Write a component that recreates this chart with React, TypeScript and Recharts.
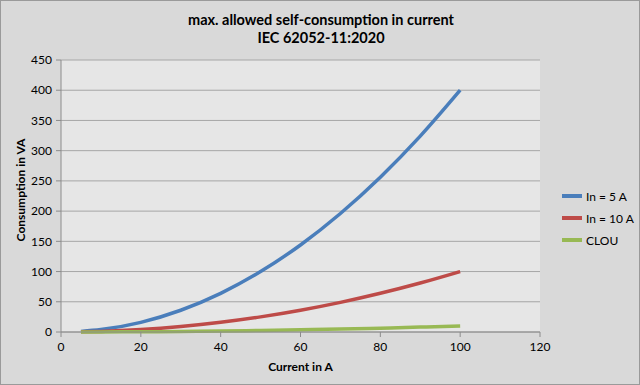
import React from "react";
import { LineChart, Line, XAxis, YAxis, CartesianGrid } from "recharts";

const currents = [5, 10, 20, 30, 40, 50, 60, 70, 80, 90, 100];
const in5A = [1, 4, 16, 36, 64, 100, 144, 196, 256, 324, 400];
const in10A = [0.25, 1, 4, 9, 16, 25, 36, 49, 64, 81, 100];
const clou = [0.03, 0.1, 0.4, 0.9, 1.6, 2.5, 3.6, 4.9, 6.4, 8.1, 10];
const xTicks = [0, 20, 40, 60, 80, 100, 120];
const yTicks = [0, 50, 100, 150, 200, 250, 300, 350, 400, 450];
const seriesNames = ["In = 5 A", "In = 10 A", "CLOU"];
const seriesColors = ["#4a7ebb", "#be4b48", "#98b954"];
const titleLines = ["max. allowed self-consumption in current", "IEC 62052-11:2020"];

const data = currents.map((c, i) => ({ x: c, a: in5A[i], b: in10A[i], c: clou[i] }));

const FONT = "Lato, 'Open Sans', sans-serif";

export default function App() {
  return (
    <div
      style={{
        position: "absolute",
        left: 0,
        top: 0,
        width: 640,
        height: 385,
        background: "#d9d9d9",
        border: "1px solid #9a9a9a",
        boxSizing: "border-box",
        fontFamily: FONT,
      }}
    >
      <div
        style={{
          position: "absolute",
          left: 0,
          top: 10,
          width: 640,
          textAlign: "center",
          fontWeight: "bold",
          fontSize: 14.5,
          lineHeight: "18px",
          color: "#000",
        }}
      >
        {titleLines.map((t) => (
          <div key={t}>{t}</div>
        ))}
      </div>
      <div style={{ position: "absolute", left: -1, top: -1 }}>
        <LineChart
          width={640}
          height={385}
          data={data}
          margin={{ top: 60, right: 100, bottom: 0, left: 0 }}
        >
          <CartesianGrid
            vertical={false}
            stroke="#a6a6a6"
            fill="#e6e6e6"
            fillOpacity={1}
          />
          <XAxis
            dataKey="x"
            type="number"
            domain={[0, 120]}
            ticks={xTicks}
            height={53}
            stroke="#8c8c8c"
            tickSize={5}
            tickMargin={5}
            tick={{ fill: "#000", fontSize: 12, fontFamily: FONT }}
            label={{
              value: "Current in A",
              position: "insideBottom",
              offset: 14,
              fill: "#000",
              fontSize: 12,
              fontWeight: "bold",
              fontFamily: FONT,
            }}
          />
          <YAxis
            type="number"
            domain={[0, 450]}
            ticks={yTicks}
            width={61}
            stroke="#8c8c8c"
            tickSize={5}
            tickMargin={4}
            tick={{ fill: "#000", fontSize: 12, fontFamily: FONT }}
            label={{
              value: "Consumption in VA",
              angle: -90,
              position: "insideLeft",
              offset: 21,
              dy: -6,
              style: { textAnchor: "middle" },
              fill: "#000",
              fontSize: 12,
              fontWeight: "bold",
              fontFamily: FONT,
            }}
          />
          <Line type="monotone" dataKey="a" name={seriesNames[0]} stroke={seriesColors[0]} strokeWidth={3.5} dot={false} isAnimationActive={false} />
          <Line type="monotone" dataKey="b" name={seriesNames[1]} stroke={seriesColors[1]} strokeWidth={3.5} dot={false} isAnimationActive={false} />
          <Line type="monotone" dataKey="c" name={seriesNames[2]} stroke={seriesColors[2]} strokeWidth={3.5} dot={false} isAnimationActive={false} />
        </LineChart>
      </div>
      <div
        style={{
          position: "absolute",
          left: 561,
          top: 184,
          fontSize: 12,
          color: "#000",
        }}
      >
        {seriesNames.map((n, i) => (
          <div key={n} style={{ display: "flex", alignItems: "center", height: 22 }}>
            <div style={{ width: 20, height: 3.5, background: seriesColors[i], marginRight: 4 }} />
            <span>{n}</span>
          </div>
        ))}
      </div>
    </div>
  );
}
